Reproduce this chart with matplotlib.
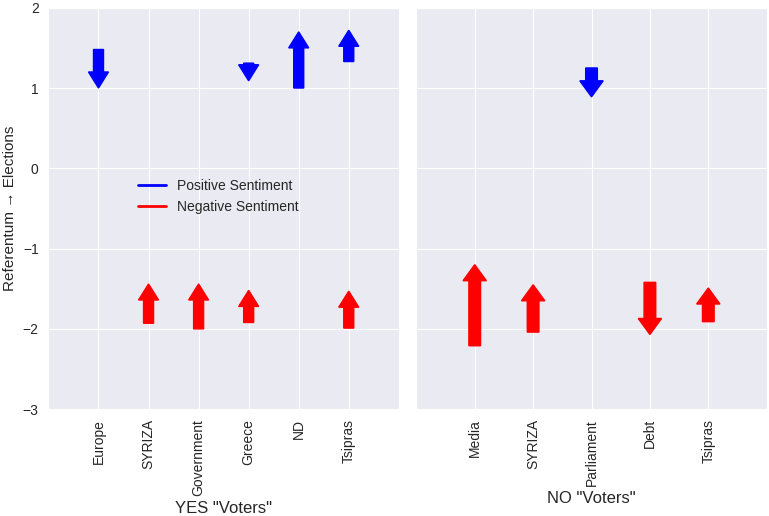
import matplotlib
matplotlib.use('Agg')
import matplotlib.pyplot as plt
import seaborn as sns

sns.set_style('darkgrid')
plt.rcParams['font.family'] = ['Liberation Sans', 'DejaVu Sans']

# YES voters: terms on the x axis
yes_terms = ['Europe', 'SYRIZA', 'Government', 'Greece', 'ND', 'Tsipras']
# positive sentiment arrows (term index, start value, end value)
yes_pos_idx = [1, 4, 5, 6]
yes_pos_start = [1.48, 1.31, 1.00, 1.33]
yes_pos_end = [1.00, 1.09, 1.70, 1.72]
# negative sentiment arrows
yes_neg_idx = [2, 3, 4, 6]
yes_neg_start = [-1.93, -2.00, -1.92, -1.99]
yes_neg_end = [-1.44, -1.44, -1.52, -1.53]

# NO voters
no_terms = ['Media', 'SYRIZA', 'Parliament', 'Debt', 'Tsipras']
no_pos_idx = [3]
no_pos_start = [1.25]
no_pos_end = [0.89]
no_neg_idx = [1, 2, 4, 5]
no_neg_start = [-2.21, -2.04, -1.42, -1.91]
no_neg_end = [-1.20, -1.45, -2.07, -1.49]


def draw_arrows(ax, idx, start, end, color):
    for x, s, e in zip(idx, start, end):
        ax.arrow(x, s, 0, e - s, width=0.2, head_width=0.4, head_length=0.2,
                 length_includes_head=True, fc=color, ec=color)


fig, (ax1, ax2) = plt.subplots(1, 2, sharey=True, figsize=(7.69, 5.16), dpi=100)
fig.subplots_adjust(left=0.063, right=0.997, top=0.985, bottom=0.207, wspace=0.05)

draw_arrows(ax1, yes_pos_idx, yes_pos_start, yes_pos_end, 'blue')
draw_arrows(ax1, yes_neg_idx, yes_neg_start, yes_neg_end, 'red')
draw_arrows(ax2, no_pos_idx, no_pos_start, no_pos_end, 'blue')
draw_arrows(ax2, no_neg_idx, no_neg_start, no_neg_end, 'red')

ax1.plot([], [], color='blue', lw=2, label='Positive Sentiment')
ax1.plot([], [], color='red', lw=2, label='Negative Sentiment')
ax1.legend(loc='center left', bbox_to_anchor=(0.22, 0.53), fontsize=10, frameon=False)

ax1.set_xlim(0, len(yes_terms) + 1)
ax1.set_xticks(range(1, len(yes_terms) + 1))
ax1.set_xticklabels(yes_terms, rotation=90, fontsize=10)
ax1.set_xlabel('YES "Voters"', fontsize=12)

ax2.set_xlim(0, len(no_terms) + 1)
ax2.set_xticks(range(1, len(no_terms) + 1))
ax2.set_xticklabels(no_terms, rotation=90, fontsize=10)
ax2.set_xlabel('NO "Voters"', fontsize=12)

ax1.set_ylim(-3, 2)
ax1.set_yticks(range(-3, 3))
ax1.tick_params(axis='y', labelsize=10)
ax1.set_ylabel('Referentum \u2192 Elections', fontsize=11)

fig.savefig('out.png', dpi=100)
